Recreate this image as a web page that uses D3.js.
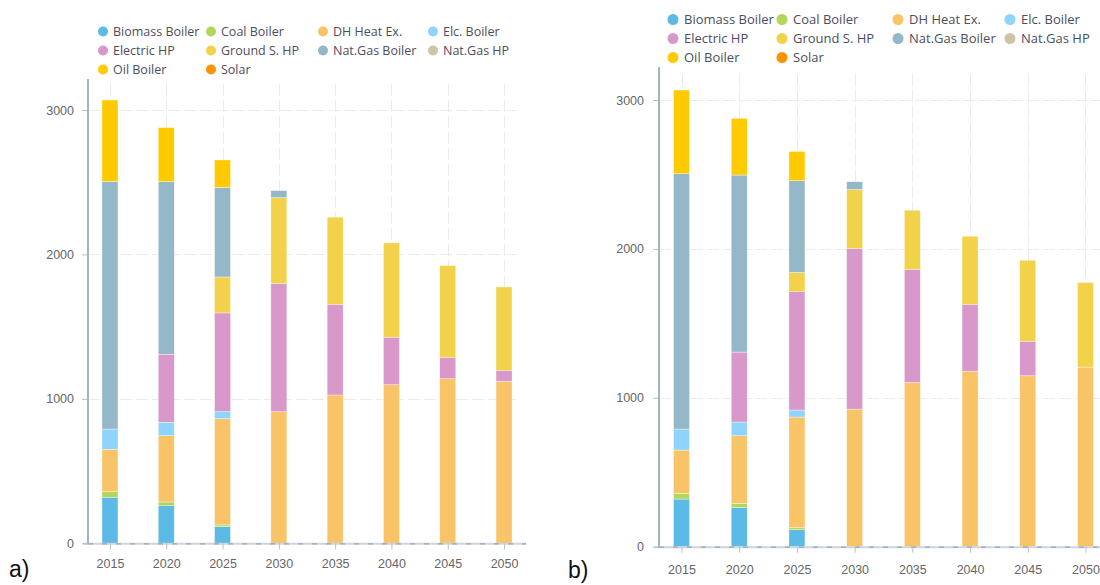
<!DOCTYPE html>
<html>
<head>
<meta charset="utf-8">
<script src="https://cdn.jsdelivr.net/npm/d3@7"></script>
<style>
html,body{margin:0;padding:0;background:#fff;}
svg{display:block;font-family:"Open Sans",sans-serif;}
</style>
</head>
<body>
<svg id="chart" width="1100" height="585"></svg>
<script>
const years = ["2015","2020","2025","2030","2035","2040","2045","2050"];
const seriesNames = ["Biomass Boiler","Coal Boiler","DH Heat Ex.","Elc. Boiler","Electric HP","Ground S. HP","Nat.Gas Boiler","Nat.Gas HP","Oil Boiler","Solar"];
const seriesColors = ["#5bbae6","#b2d65a","#f9c468","#8fd4fd","#d898ca","#f2d24b","#94b8c7","#cdc5a8","#ffcb00","#ff9200"];
const yTicks = [0,1000,2000,3000];

// Panel a)
const biomassA = [319,260,115,0,0,0,0,0];
const coalA    = [38,26,12,0,0,0,0,0];
const dhA      = [294,459,736,911,1027,1098,1140,1122];
const elcA     = [140,93,48,0,0,0,0,0];
const ehpA     = [0,471,684,887,628,329,146,73];
const gshpA    = [0,0,249,595,603,653,637,580];
const ngA      = [1715,1195,621,49,0,0,0,0];
const nghpA    = [0,0,0,0,0,0,0,0];
const oilA     = [563,374,189,0,0,0,0,0];
const solarA   = [0,0,0,0,0,0,0,0];

// Panel b)
const biomassB = [320,264,114,0,0,0,0,0];
const coalB    = [38,27,14,0,0,0,0,0];
const dhB      = [291,454,743,924,1103,1179,1148,1206];
const elcB     = [141,92,47,0,0,0,0,0];
const ehpB     = [0,470,795,1078,758,449,231,0];
const gshpB    = [0,0,129,397,399,457,545,568];
const ngB      = [1715,1189,616,52,0,0,0,0];
const nghpB    = [0,0,0,0,0,0,0,0];
const oilB     = [562,381,197,0,0,0,0,0];
const solarB   = [0,0,0,0,0,0,0,0];

const seriesA = [biomassA,coalA,dhA,elcA,ehpA,gshpA,ngA,nghpA,oilA,solarA];
const seriesB = [biomassB,coalB,dhB,elcB,ehpB,gshpB,ngB,nghpB,oilB,solarB];

const svg = d3.select("#chart");
const tickFamily = "Liberation Sans, Arial, sans-serif";

function drawPanel(series, L) {
  const g = svg.append("g");
  const x = d3.scalePoint().domain(years).range([L.x0, L.x1]).padding(0.39);
  const y = d3.scaleLinear().domain([0,3000]).range([L.y0, L.y3000]);

  // horizontal grid
  g.append("g").selectAll("line").data(yTicks.filter(d=>d>0)).join("line")
    .attr("x1", L.x0).attr("x2", L.gridRight)
    .attr("y1", d=>Math.round(y(d))+0.5).attr("y2", d=>Math.round(y(d))+0.5)
    .attr("stroke","#ebebeb").attr("stroke-width",1).attr("stroke-dasharray","12,4");
  // vertical grid
  g.append("g").selectAll("line").data(years).join("line")
    .attr("x1", d=>Math.round(x(d))+0.5).attr("x2", d=>Math.round(x(d))+0.5)
    .attr("y1", L.gridTop).attr("y2", L.y0)
    .attr("stroke","#ebebeb").attr("stroke-width",1).attr("stroke-dasharray","12,4");

  // stacked bars
  const table = years.map((yr,i)=>{
    const o = {year: yr};
    seriesNames.forEach((s,k)=>{ o[s] = series[k][i]; });
    return o;
  });
  const stack = d3.stack().keys(seriesNames)(table);
  const color = d3.scaleOrdinal().domain(seriesNames).range(seriesColors);
  g.append("g").selectAll("g").data(stack).join("g")
    .attr("fill", d=>color(d.key))
    .selectAll("rect").data(d=>d.filter(p=>p[1]-p[0]>0)).join("rect")
    .attr("x", d=>x(d.data.year)-L.barW/2)
    .attr("width", L.barW)
    .attr("y", d=>y(d[1]))
    .attr("height", d=>y(d[0])-y(d[1]))
    .attr("stroke","#ffffff").attr("stroke-opacity",0.6).attr("stroke-width",0.6);

  // x axis line
  g.append("line").attr("x1", L.x0-5).attr("x2", L.axisRight).attr("y1", L.y0+0.5).attr("y2", L.y0+0.5)
    .attr("stroke","#ccd6de").attr("stroke-width",2);
  g.append("line").attr("x1", L.x0).attr("x2", L.axisRight).attr("y1", L.y0+0.5).attr("y2", L.y0+0.5)
    .attr("stroke","#98a6b2").attr("stroke-width",1.2).attr("stroke-dasharray","5,9");
  const xa = d3.axisBottom(x).tickSize(6).tickPadding(L.xPad);
  const gx = g.append("g").attr("transform",`translate(0,${L.y0})`).call(xa);
  gx.select(".domain").remove();
  gx.selectAll(".tick line").attr("stroke","#b4c0ca");
  gx.selectAll("text").attr("fill","#666").attr("font-size",L.tickFont).attr("font-family",tickFamily);

  // y axis
  const ya = d3.axisLeft(y).tickValues(yTicks).tickSize(6).tickPadding(L.yPad).tickFormat(d3.format("d"));
  const gy = g.append("g").attr("transform",`translate(${L.x0},0)`).call(ya);
  gy.select(".domain").remove();
  gy.selectAll(".tick line").attr("stroke","#b4c0ca");
  gy.selectAll("text").attr("fill","#666").attr("font-size",L.tickFont).attr("font-family",tickFamily);
  g.append("line").attr("x1", L.x0).attr("x2", L.x0).attr("y1", L.axisTop).attr("y2", L.y0+1)
    .attr("stroke","#a6b3bd").attr("stroke-width",2);

  // legend
  const lg = g.append("g");
  seriesNames.forEach((s,k)=>{
    const cx = L.legCols[k%4], cy = L.legRows[Math.floor(k/4)];
    lg.append("circle").attr("cx",cx).attr("cy",cy).attr("r",L.legR).attr("fill",seriesColors[k]);
    lg.append("text").attr("x",cx+L.legDx).attr("y",cy).attr("dy","0.35em")
      .attr("font-size",L.legFont).attr("fill","#4d4d5c").text(s);
  });

  // panel label
  g.append("text").attr("x",L.labX).attr("y",L.labY).attr("font-size",23)
    .attr("font-family","Liberation Sans, Arial, sans-serif").attr("fill","#111").text(L.label);
}

drawPanel(seriesA, {
  x0: 88, x1: 526, axisRight: 526, y0: 543.3, y3000: 110, axisTop: 79, gridTop: 84, gridRight: 518,
  barW: 16, tickFont: 12.5, xPad: 10, yPad: 8,
  legCols: [103,211,323,433], legRows: [31.5,50.5,69.5], legR: 5, legDx: 10, legFont: 12.5,
  label: "a)", labX: 9, labY: 577
});
drawPanel(seriesB, {
  x0: 659, x1: 1108, axisRight: 1100, y0: 546.7, y3000: 100, axisTop: 67, gridTop: 74, gridRight: 1100,
  barW: 16, tickFont: 12.5, xPad: 12, yPad: 9,
  legCols: [673,782,898,1010], legRows: [19.5,38.5,57.5], legR: 5.5, legDx: 11, legFont: 13,
  label: "b)", labX: 568, labY: 578
});
</script>
</body>
</html>
